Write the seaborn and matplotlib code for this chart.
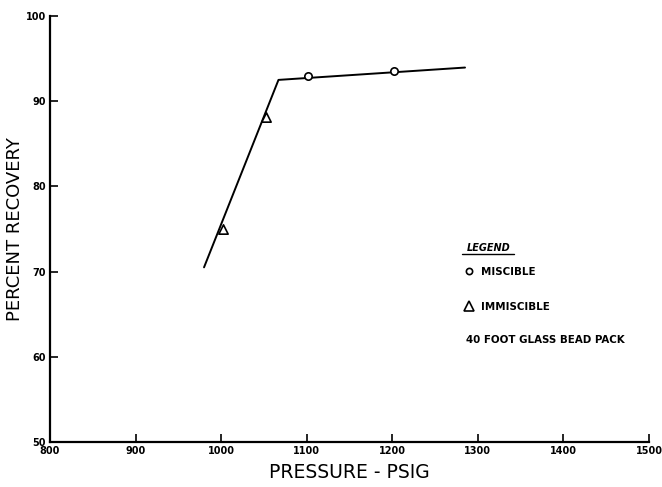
import matplotlib
matplotlib.use("Agg")
import matplotlib.pyplot as plt
import seaborn as sns
import pandas as pd
from matplotlib.lines import Line2D

# Data
curve_pressure = [980, 1067, 1285]
curve_recovery = [70.5, 92.5, 93.95]
miscible_pressure = [1102, 1202]
miscible_recovery = [92.95, 93.6]
immiscible_pressure = [1002, 1052]
immiscible_recovery = [75.0, 88.1]
x_ticks = [800, 900, 1000, 1100, 1200, 1300, 1400, 1500]
y_ticks = [50, 60, 70, 80, 90, 100]

sns.set_style("ticks")
plt.rcParams['font.family'] = ['DejaVu Sans']
plt.rcParams.update({"text.color": "black", "axes.labelcolor": "black",
                     "xtick.color": "black", "ytick.color": "black"})

fig = plt.figure(figsize=(6.62, 4.87), dpi=100)
ax = fig.add_axes([50/662, 45/487, 599/662, 426/487])

curve = pd.DataFrame({"p": curve_pressure, "r": curve_recovery})
sns.lineplot(data=curve, x="p", y="r", ax=ax, color="black", lw=1.4,
             sort=False, estimator=None)

mis = pd.DataFrame({"p": miscible_pressure, "r": miscible_recovery})
imm = pd.DataFrame({"p": immiscible_pressure, "r": immiscible_recovery})
sns.scatterplot(data=mis, x="p", y="r", ax=ax, marker="o", s=28,
                facecolor="white", edgecolor="black", linewidth=1.2, zorder=5)
sns.scatterplot(data=imm, x="p", y="r", ax=ax, marker="^", s=45,
                facecolor="white", edgecolor="black", linewidth=1.2, zorder=5)

ax.set_xlim(800, 1500)
ax.set_ylim(50, 100)
ax.set_xticks(x_ticks)
ax.set_yticks(y_ticks)
ax.set_xticklabels([str(t) for t in x_ticks], fontsize=7, fontweight="bold")
ax.set_yticklabels([str(t) for t in y_ticks], fontsize=7, fontweight="bold")
ax.tick_params(direction="in", length=6, width=1.2, pad=3, colors="black")
for s in ["top", "right"]:
    ax.spines[s].set_visible(False)
for s in ["left", "bottom"]:
    ax.spines[s].set_linewidth(1.6)
    ax.spines[s].set_color("black")

ax.set_xlabel("PRESSURE - PSIG", fontsize=13.5, labelpad=5, color="black")
ax.set_ylabel("PERCENT RECOVERY", fontsize=13, color="black")
ax.yaxis.set_label_coords(-0.043, 0.5)

handles = [
    Line2D([], [], marker="o", color="black", markerfacecolor="white",
           markersize=4.5, markeredgewidth=1.2, linestyle="none"),
    Line2D([], [], marker="^", color="black", markerfacecolor="white",
           markersize=6.5, markeredgewidth=1.2, linestyle="none"),
]
leg = ax.legend(handles, ["MISCIBLE", "IMMISCIBLE"],
                frameon=False, loc="upper left",
                bbox_to_anchor=(0.693, 0.411), labelspacing=2.4,
                handlelength=0.8, handletextpad=0.7, borderaxespad=0,
                borderpad=0, prop={"size": 7.4, "weight": "bold"},
                labelcolor="black")
ax.text(0.695, 0.455, "LEGEND", transform=ax.transAxes, fontsize=7,
        fontweight="bold", fontstyle="italic", va="center", ha="left",
        color="black")
ax.plot([0.688, 0.774], [0.441, 0.441], transform=ax.transAxes,
        color="black", lw=1.0)
ax.text(0.694, 0.239, "40 FOOT GLASS BEAD PACK", transform=ax.transAxes,
        fontsize=7.4, fontweight="bold", va="center", ha="left",
        color="black")

fig.savefig("out.png", dpi=100)
